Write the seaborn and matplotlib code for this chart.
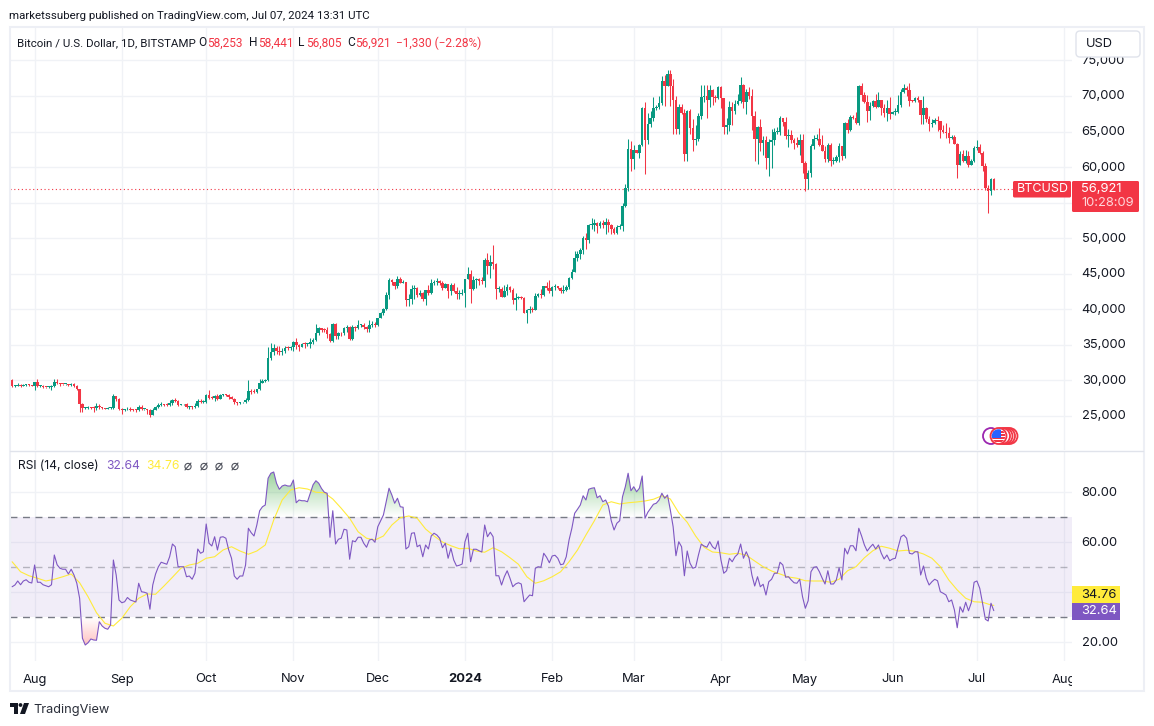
import numpy as np
import pandas as pd
import matplotlib.pyplot as plt
import matplotlib.dates as mdates
from matplotlib.patches import Rectangle, Circle, FancyBboxPatch, Polygon
from matplotlib.transforms import ScaledTranslation
import seaborn as sns

W, H = 1154, 726
GREEN = "#089981"
RED = "#f23645"
PURPLE = "#7e57c2"
YELLOW = "#ffeb3b"
GRID = "#f0f2f6"
TEXT = "#131722"

# daily closes
first_open = 30080
close_jul = [29170,29220,29350,29210,29310,29350,29270,29230]
close_aug = [29700,29170,29170,29050,29040,29040,29170,29760,29560,29420,29400,29410,29280,29400,29170,28700,26620,26050,26100,26190,26120,26040,26430,26160,26050,26010,26090,26100,27720,27300,25940]
close_sep = [25800,25870,25970,25810,25780,25750,26240,25900,25900,25840,25160,25840,26220,26530,26600,26570,26530,26760,27210,27130,26570,26580,26580,26250,26300,26210,26350,27030,26910,26970]
close_oct = [27970,27500,27430,27790,27410,27930,27950,27930,27590,27390,26870,26750,26860,26860,27160,28520,28400,28330,28720,29670,29910,29990,33080,33900,34500,34150,33900,34090,34530,34490,34660]
close_nov = [35420,34930,34720,35070,35040,35040,35430,35650,36690,37310,37130,37060,36490,35550,37880,36160,36600,36570,37390,37470,35810,37420,37290,37720,37790,37470,37240,37820,37850,37720]
close_dec = [38690,39460,39970,41990,44080,43770,43290,44180,43720,43790,41240,41480,42890,43020,41940,42240,41370,42660,42270,43660,43860,43990,43740,43010,43580,42520,43440,42580,42070,42140,42270]
close_jan = [44170,44950,42840,44160,44170,43960,43930,46970,46110,46650,46340,42780,42850,41730,42510,43140,42740,41270,41620,41670,41550,39510,39880,40080,39930,41810,42120,42030,43300,42950,42580]
close_feb = [43080,43200,42990,42580,42660,43090,44340,45290,47140,47770,48290,49950,49700,51800,51910,52140,51650,52130,51780,52260,51850,51300,50740,51570,51730,54490,57060,62500,61180]
close_mar = [62440,62040,63130,68270,63800,66100,66930,68300,68500,69000,72100,71450,73100,71400,69400,65300,68400,67600,61900,67900,65500,63800,64000,67200,69900,70000,69500,70800,69900,69650,71300]
close_apr = [69650,65700,65950,68500,67850,68900,69360,71600,69150,70600,70000,67150,63900,65700,63400,63800,61300,63500,63800,64950,64950,66850,66400,64300,64500,63750,63450,63100,63850,60600]
close_may = [58250,59100,62900,63900,64000,63150,62300,61150,63050,60800,60800,61450,62900,61550,66250,65250,67050,66900,66250,71450,70150,69150,67900,68550,69250,68500,69400,68350,67600,68350,67500]
close_jun = [67750,67750,68800,70550,71100,70800,69350,69300,69650,69500,67300,68250,66750,66000,66200,66650,66500,65150,64950,64850,64100,64250,63200,60300,61800,60800,61600,60300,60850,62650]
close_jul24 = [62850,62000,60200,57050,56650,58253,56921]

# wick lengths beyond the body, hundreds of USD
up_jul = [1,1,2,1,1,1,1,1]
up_aug = [1,4,2,1,0,1,2,4,4,1,1,1,1,2,2,1,1,1,1,2,1,2,4,2,1,0,1,1,3,1,2]
up_sep = [2,1,2,2,1,1,2,3,1,1,1,3,2,2,3,1,2,4,2,3,1,1,1,2,1,1,4,3,3,2]
up_oct = [1,7,3,1,3,1,1,1,1,2,1,1,1,1,3,15,2,3,1,5,2,2,16,13,6,3,6,4,3,3,1]
up_nov = [1,5,2,2,3,2,5,3,12,2,1,2,4,2,1,1,2,2,1,3,1,4,2,7,1,3,1,6,5,3]
up_dec = [1,2,2,4,3,2,1,5,4,3,0,6,5,4,1,5,2,1,8,6,3,4,1,2,1,0,3,3,5,5,6]
up_jan = [0,10,5,5,2,2,5,2,9,10,24,2,4,3,9,4,1,2,6,2,2,1,1,4,2,4,1,7,0,5,11]
up_feb = [2,3,1,1,8,3,2,3,11,4,3,4,7,2,9,5,1,3,4,6,4,2,3,3,3,4,5,15,12]
up_mar = [7,0,1,2,9,15,10,16,3,10,7,8,5,6,10,6,5,5,5,1,3,12,19,4,16,15,16,7,2,3,1]
up_apr = [1,0,9,8,6,6,9,11,1,4,6,10,8,1,11,5,6,5,16,5,7,4,0,6,8,7,3,8,8,8]
up_may = [2,5,4,6,6,15,13,7,4,3,6,3,5,1,1,5,3,3,8,1,4,4,10,6,2,10,12,1,5,11,15]
up_jun = [1,6,14,4,6,3,11,1,2,4,0,17,2,5,5,3,6,0,8,13,8,2,2,2,5,6,8,6,3,3]
up_jul24 = [9,4,2,3,4,2,1.88]

dn_jul = [2,2,1,2,1,1,1,1]
dn_aug = [6,2,2,2,1,1,4,2,1,2,1,1,1,1,1,1,11,5,1,1,2,5,2,2,1,1,1,1,2,2,1]
dn_sep = [6,1,1,1,1,2,1,1,1,6,3,1,1,2,1,2,1,1,3,2,2,1,1,2,3,2,1,1,1,1]
dn_oct = [2,2,1,3,2,1,1,1,2,1,2,2,1,1,1,1,3,2,2,1,1,2,1,2,3,4,3,3,2,3,2]
dn_nov = [5,6,6,1,5,3,5,3,1,3,4,3,6,2,2,4,3,3,2,6,1,1,4,1,2,3,5,4,3,2]
dn_dec = [1,0,3,1,6,4,4,3,1,1,8,8,8,14,2,1,2,8,3,1,2,5,4,3,1,10,5,1,7,6,2]
dn_jan = [20,0,20,2,12,6,4,8,12,17,7,13,3,0,0,5,4,6,14,2,1,1,14,4,4,1,1,4,2,3,3]
dn_feb = [7,4,1,3,3,1,3,1,1,3,7,6,13,4,5,9,9,3,3,12,10,7,2,1,3,8,1,4,17]
dn_mar = [15,1,7,2,48,5,4,5,3,3,3,28,1,28,48,7,7,2,11,11,9,15,7,3,5,8,26,10,11,5,1]
dn_apr = [14,11,11,9,19,4,2,3,9,17,4,19,31,35,11,17,16,25,36,7,3,4,6,4,15,4,9,3,14,14]
dn_may = [16,13,5,3,1,2,1,4,4,6,4,1,7,5,3,4,2,2,2,4,9,2,16,13,1,2,1,10,5,11,8]
dn_jun = [1,4,2,3,1,8,8,1,1,4,12,13,4,9,3,2,14,10,2,8,7,1,0,18,0,1,2,3,0,1]
dn_jul24 = [3,2,7,3,31,6,1.16]

# RSI(14)
rsi_jul = [42.2,42.9,44.5,43,44.5,45,44,43.7]
rsi_aug = [50.9,44,44,43,42.6,42.2,43,54.9,51,49.6,49.2,49.2,47.3,49.2,46.9,43.6,37.6,21.6,18.9,19.8,21.3,20.9,20.8,28.2,26.5,25.6,25.2,26.9,52.9,46.9,36.9]
rsi_sep = [35.8,36.2,37.9,36.9,36.5,36.1,43.6,40.2,40,39.6,33.2,42.9,47.3,50.2,52,51.6,51.2,54.2,59.3,58.2,50.2,50.2,50.2,46.2,46.5,45.2,47.6,57.3,55.6,56.2]
rsi_oct = [67.3,59.6,58.5,62.2,56.9,62,62.2,61.6,56.9,53.6,46.5,45.2,46.5,46.5,50.9,65.6,63.8,62.5,66.9,72.6,74.2,74.9,85.6,87.6,88.1,83.6,81.2,82.5,82.9,82.5,82.5]
rsi_nov = [84.9,75.8,76.9,76.6,76.6,76.2,79.6,83,84.6,83.6,81.5,80,79.6,62,72.6,59.3,61.2,61.6,65.2,64.9,53.2,60.6,60.2,62,62,59.6,58,60.9,61.2,60]
rsi_dec = [66.2,68.6,70.9,76.2,81.6,78.9,75.6,77.6,74.2,74,57.3,58.2,63.6,63.8,58.2,58.9,54.2,58.9,57.3,62.5,63.6,62.9,61.6,57.8,59.6,53.6,57.6,52.9,50.5,50.8,51.3]
rsi_jan = [60.2,63.6,52.2,57.2,57.2,56.6,56.1,66.9,62.2,64,62.2,46.6,46.6,42.9,46.2,48.6,45.6,42.2,43.3,43.8,43.3,36.2,37.6,38.9,38.6,49.6,50.2,50,55.6,54,51.8]
rsi_feb = [54.5,54.8,53.6,51,51.3,54.2,60.9,65.6,71.6,73.2,74.9,78.6,76.9,81.2,81.6,81.8,77.8,78.6,76.2,76.9,74.5,68.6,64.9,67.6,68.6,78.2,82.2,87.6,80.6]
rsi_mar = [82.2,80.2,81.6,86.5,69.6,72,73.6,75.2,75.6,76.9,79.6,77.6,78.9,72.9,66.2,54.6,60.2,58.2,46.6,56.5,51.6,49.6,50,54.9,59.2,58.5,58,60.2,58.2,57.3,60.5]
rsi_apr = [52.9,47.6,48.6,53.6,52.2,54.2,55.3,59.3,53.6,56.2,53.6,46.9,42.5,46.2,42.2,43.2,38.9,44.2,45.2,47.6,47.6,52,50.9,46,46.2,44.9,43.8,43.6,45.2,38.2]
rsi_may = [33.6,36.6,48.2,50,50.2,48.2,45.6,43.3,48.6,43.3,43.3,44.9,49.8,44.9,57.6,55.3,58.6,58.6,56.6,65.6,62.5,58.9,56.5,58,59.2,57.3,58.9,55.6,53.3,54.9,52.6]
rsi_jun = [53.3,53.6,58,62.2,62.9,61.6,55.6,55.3,56.2,56.2,46.9,50.5,45.6,42.9,44.2,45.2,44.6,40.2,39.6,38.9,36.2,36.9,32.9,25.8,34.2,32,36,32.6,35.8,44]
rsi_jul24 = [44.5,41.6,35.6,29.2,28.5,35.6,32.64]

# yellow RSI average, read every third day from Jul 24 2023, plus the last bar
rsi_ma = [52.2,48.2,46.6,45.6,44.5,45.2,46.2,47.3,43.8,38.2,31.8,27.6,26.5,29.6,34.2,37.6,39.3,39.2,42.5,46,49.6,50.9,51.6,53.6,54.2,56.9,58.2,56.5,55.2,56.5,58.9,68.9,76.9,80.9,81.8,81.3,80,79.8,77.3,73.6,69.6,64.2,61.6,60.9,
          62.5,66.9,69.8,70.5,69.6,65.3,62.5,60.1,58.6,57.4,57.6,56.5,56,57.8,56.2,53.8,51.2,46.2,43.6,44.6,46.2,48.2,52.2,56.9,62.9,68.6,74.9,76.2,75.3,75.8,76.1,76.5,77.2,78.6,77.3,71.8,68,62.5,58,56.1,55.8,55.2,55.6,54.8,
          52.5,50.2,48.5,47.3,46.1,45.6,44.6,44.5,44.5,44,45.2,48.6,50.2,53.8,56.6,58.4,57.6,56.5,56.8,56.4,55.3,53.6,50.2,44.9,40.9,37.6,36.2,36,34.9,34.76]

price_ticks = [25000,30000,35000,40000,45000,50000,55000,60000,65000,70000,75000]
price_labels = ["25,000","30,000","35,000","40,000","45,000","50,000","","60,000","65,000","70,000","75,000"]
rsi_ticks = [20,40,60,80]
rsi_labels = ["20.00","","60.00","80.00"]
month_ticks = ["2023-08-01","2023-09-01","2023-10-01","2023-11-01","2023-12-01","2024-01-01","2024-02-01","2024-03-01","2024-04-01","2024-05-01","2024-06-01","2024-07-01","2024-08-01"]
month_labels = ["Aug","Sep","Oct","Nov","Dec","2024","Feb","Mar","Apr","May","Jun","Jul","Aug"]

close = np.array(close_jul+close_aug+close_sep+close_oct+close_nov+close_dec+close_jan+close_feb+close_mar+close_apr+close_may+close_jun+close_jul24, dtype=float)
up = np.array(up_jul+up_aug+up_sep+up_oct+up_nov+up_dec+up_jan+up_feb+up_mar+up_apr+up_may+up_jun+up_jul24)*100
dn = np.array(dn_jul+dn_aug+dn_sep+dn_oct+dn_nov+dn_dec+dn_jan+dn_feb+dn_mar+dn_apr+dn_may+dn_jun+dn_jul24)*100
rsi = np.array(rsi_jul+rsi_aug+rsi_sep+rsi_oct+rsi_nov+rsi_dec+rsi_jan+rsi_feb+rsi_mar+rsi_apr+rsi_may+rsi_jun+rsi_jul24)

dates = pd.date_range("2023-07-24", periods=len(close))
x = mdates.date2num(dates)
opens = np.r_[first_open, close[:-1]]
top = np.maximum(opens, close)
bot = np.minimum(opens, close)
colors = np.where(close >= opens, GREEN, RED)

ma_x = np.r_[x[::3], x[-1]]

sns.set_theme(style="white")
plt.rcParams["font.family"] = ["Inter", "DejaVu Sans"]

fig = plt.figure(figsize=(W/100, H/100), dpi=100, facecolor="white")

def pane(l, t, r, b, **kw):
    return fig.add_axes([l/W, 1-b/H, (r-l)/W, (b-t)/H], **kw)

x0 = mdates.date2num(pd.Timestamp("2023-08-01"))
xlim = (x0-8.75, x0+368.8)
tick_x = mdates.date2num(pd.to_datetime(month_ticks))

# price pane
ax = pane(10, 28, 1072, 450)
ax.bar(x, np.maximum(top-bot, 130), bottom=bot, width=0.92, color=colors, linewidth=0, zorder=3)
ax.vlines(x, bot-dn, top+up, colors=colors, linewidth=0.75, zorder=2)
ax.axhline(close[-1], color=RED, linewidth=0.8, linestyle=(0, (1, 2.4)), zorder=1)
ax.set_xlim(xlim)
ax.set_ylim(20169, 79572)
ax.set_yticks(price_ticks)
ax.set_yticklabels(price_labels)
ax.set_xticks(tick_x)
ax.tick_params(axis="x", length=0, labelbottom=False)
ax.yaxis.tick_right()
ax.tick_params(axis="y", length=0, pad=7, labelsize=9.3, labelcolor=TEXT)
ax.grid(True, color=GRID, linewidth=1, zorder=0)
ax.set_axisbelow(True)
sns.despine(ax=ax, left=True, bottom=True, right=True, top=True)

# RSI pane
ax2 = pane(10, 451, 1072, 661)
ax2.axhspan(30, 70, color=PURPLE, alpha=0.1, linewidth=0, zorder=1)
ax2.axhline(70, color="#787b86", linewidth=1, linestyle=(0, (5, 4)), zorder=2)
ax2.axhline(30, color="#787b86", linewidth=1, linestyle=(0, (5, 4)), zorder=2)
ax2.axhline(50, color="#787b86", alpha=0.5, linewidth=1, linestyle=(0, (5, 4)), zorder=2)

# gradient fills beyond the 70 and 30 levels
fine_x = np.linspace(x[0], x[-1], 6000)
fine_y = np.interp(fine_x, x, rsi)
ramp = np.linspace(0, 1, 128)
green_img = np.zeros((128, 1, 4))
green_img[..., :3] = (0.30, 0.69, 0.31)
green_img[..., 3] = (ramp*0.62)[:, None]
red_img = np.zeros((128, 1, 4))
red_img[..., :3] = (1.0, 0.32, 0.32)
red_img[..., 3] = (ramp[::-1]*0.42)[:, None]
for img, lo, hi, clipped, base in [
    (green_img, 70, 90, np.maximum(fine_y, 70), 70),
    (red_img, 17, 30, np.minimum(fine_y, 30), 30),
]:
    poly = Polygon(np.c_[np.r_[fine_x, fine_x[::-1]], np.r_[clipped, np.full_like(clipped, base)]],
                   closed=True, transform=ax2.transData, facecolor="none", edgecolor="none")
    ax2.add_patch(poly)
    im = ax2.imshow(img, origin="lower", aspect="auto", extent=(x[0], x[-1], lo, hi), zorder=3, interpolation="bilinear")
    im.set_clip_path(poly)

sns.lineplot(x=ma_x, y=rsi_ma, color=YELLOW, linewidth=0.8, ax=ax2, zorder=4)
sns.lineplot(x=x, y=rsi, color=PURPLE, linewidth=0.8, ax=ax2, zorder=5)
ax2.set_xlim(xlim)
ax2.set_ylim(12.5, 96.5)
ax2.set_xlabel("")
ax2.set_ylabel("")
ax2.set_yticks(rsi_ticks)
ax2.set_yticklabels(rsi_labels)
ax2.yaxis.tick_right()
ax2.tick_params(axis="y", length=0, pad=7, labelsize=9.3, labelcolor=TEXT)
ax2.set_xticks(tick_x)
ax2.set_xticklabels(month_labels)
ax2.tick_params(axis="x", length=0, pad=9, labelsize=9.3, labelcolor=TEXT)
ax2.get_xticklabels()[5].set_fontweight("bold")
ax2.grid(True, color=GRID, linewidth=1, zorder=0)
ax2.set_axisbelow(True)
sns.despine(ax=ax2, left=True, bottom=True, right=True, top=True)

# tick labels sit a pixel above their grid lines in the reference
nudge = ScaledTranslation(0, 1/100, fig.dpi_scale_trans)
for a in (ax, ax2):
    for t in a.get_yticklabels():
        t.set_transform(t.get_transform() + nudge)

# overlay in pixel coordinates for the TradingView chrome
ov = fig.add_axes([0, 0, 1, 1], zorder=10)
ov.set_xlim(0, W)
ov.set_ylim(H, 0)
ov.axis("off")

# clip the last month label at the pane edge, then draw the frame
ov.add_patch(Rectangle((1072, 662), 70, 28, color="white", linewidth=0))
ov.add_patch(Rectangle((10, 27), 1133.5, 664, fill=False, edgecolor="#edeff5", linewidth=1.5))
ov.plot([10, 1143], [450.5, 450.5], color="#e0e3eb", linewidth=1.0)

def label(px, py, s, color=TEXT, size=8.25, family="Roboto", **kw):
    ov.text(px, py, s, color=color, fontsize=size, family=family, va="center", ha=kw.pop("ha", "left"), **kw)

label(9, 16, "marketssuberg published on TradingView.com, Jul 07, 2024 13:31 UTC")
label(17, 43, "Bitcoin / U.S. Dollar, 1D, BITSTAMP")
for px, s, c in [(198, "O", TEXT), (207, "58,253", RED), (249, "H", TEXT), (258, "58,441", RED),
                 (298, "L", TEXT), (306, "56,805", RED), (347, "C", TEXT), (355, "56,921", RED),
                 (396, "\u22121,330 (\u22122.28%)", RED)]:
    label(px, 43, s, c, size=8.6)

label(18, 466, "RSI (14, close)", size=8.7, family="Inter")
label(106, 466, "32.64", PURPLE, size=8.7, family="Inter")
label(146, 466, "34.76", YELLOW, size=8.7, family="Inter")
for px in [184, 200, 215, 231]:
    ov.add_patch(Circle((px+4, 466.5), 3.1, fill=False, edgecolor="#50535e", linewidth=0.8))
    ov.plot([px+1, px+7], [470, 463], color="#50535e", linewidth=0.8)

# currency button, on top of the 75,000 label
ov.add_patch(FancyBboxPatch((1076, 31), 64, 26, boxstyle="round,pad=0,rounding_size=4", facecolor="white", edgecolor="#e0e3eb", linewidth=1))
label(1086, 44, "USD", size=9.2, family="Inter")

# last price tags
ov.add_patch(FancyBboxPatch((1013, 181), 58, 16.5, boxstyle="round,pad=0,rounding_size=1.5", facecolor=RED, edgecolor="none"))
label(1017, 189.5, "BTCUSD", "white", size=9.0, family="Inter")
ov.add_patch(FancyBboxPatch((1072, 181), 67, 31, boxstyle="round,pad=0,rounding_size=1.5", facecolor=RED, edgecolor="none"))
label(1081, 188.5, "56,921", "white", size=9.3, family="Inter")
label(1081, 203, "10:28:09", "#ffd5d9", size=9.3, family="Inter")

# RSI value tags
ov.add_patch(Rectangle((1072, 586), 48, 17, color=YELLOW, linewidth=0))
label(1081, 594.5, "34.76", TEXT, size=9.3, family="Inter")
ov.add_patch(Rectangle((1072, 603), 48, 17, color=PURPLE, linewidth=0))
label(1081, 611.5, "32.64", "white", size=9.3, family="Inter")

# event bubbles
ov.add_patch(Circle((991, 436), 8, facecolor="white", edgecolor="#9c27b0", linewidth=1.3))
for cx in [1009.5, 1007, 1004.5, 1002]:
    ov.add_patch(Circle((cx, 436), 8, facecolor="white", edgecolor=RED, linewidth=1.3))
badge = Circle((998.5, 436), 8, facecolor="white", edgecolor=RED, linewidth=1.3)
ov.add_patch(badge)
flag_clip = Circle((998.5, 436), 6.8, transform=ov.transData)
for sy in [431, 434, 437, 440]:
    ov.add_patch(Rectangle((990, sy), 18, 1.6, color=RED, linewidth=0, clip_path=flag_clip))
ov.add_patch(Rectangle((990, 429), 10.5, 8.5, color="#2962ff", linewidth=0, clip_path=flag_clip))

# bottom logo
ov.add_patch(Polygon([(10, 703), (18, 703), (18, 714), (14, 714), (14, 707), (10, 707)], closed=True, color=TEXT, linewidth=0))
ov.add_patch(Circle((20.5, 705), 1.9, color=TEXT, linewidth=0))
ov.add_patch(Polygon([(24, 703), (29, 703), (25, 714), (20, 714)], closed=True, color=TEXT, linewidth=0))
label(33, 709.5, "TradingView", "#2a2e39", size=9.2, family="Inter")

fig.savefig("out.png", dpi=100)
